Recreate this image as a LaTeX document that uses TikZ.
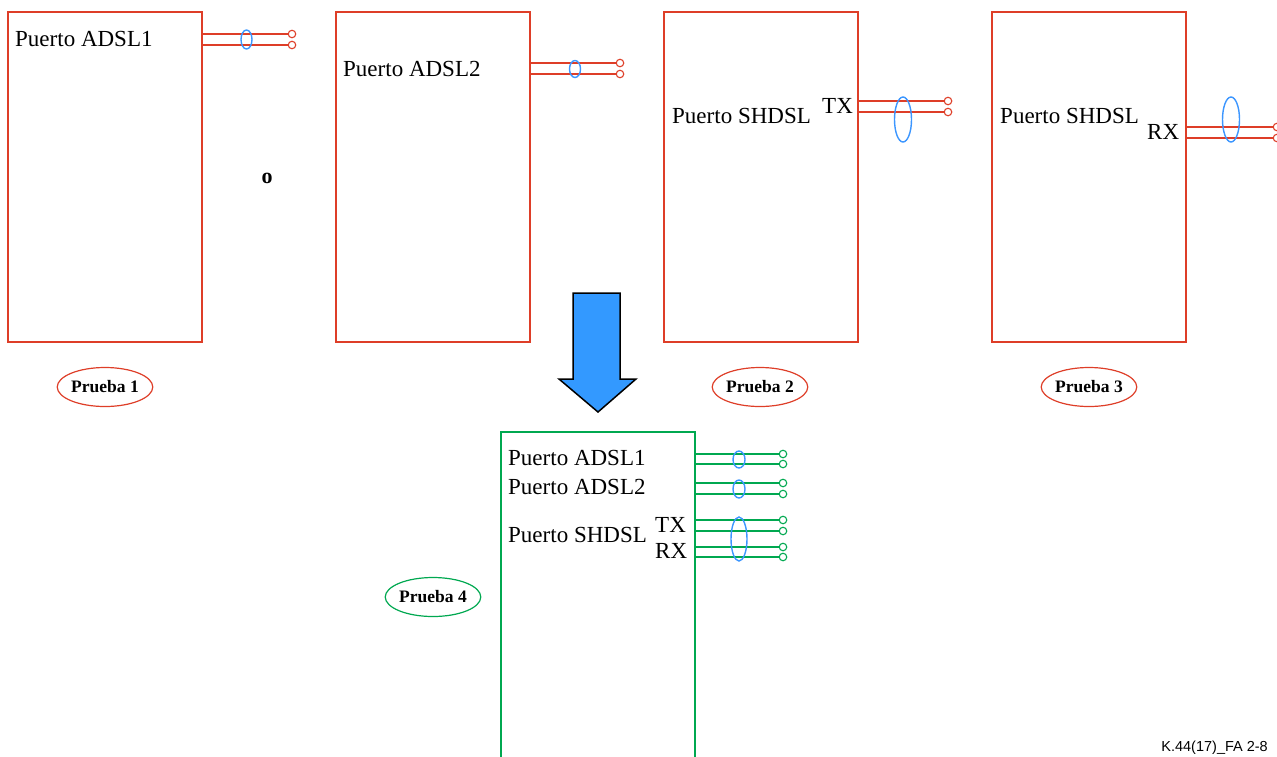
\documentclass[tikz,border=0pt]{standalone}
\usepackage{fontspec}
\setmainfont{Liberation Serif}
\newfontfamily\figsans{Liberation Sans}
\usetikzlibrary{shapes.geometric}
\definecolor{boxred}{RGB}{222,62,40}
\definecolor{boxgreen}{RGB}{0,168,80}
\definecolor{pairblue}{RGB}{60,150,255}
\definecolor{arrowblue}{RGB}{51,153,255}
\tikzset{
  unit/.style={draw=#1, line width=1.5pt, minimum width=194pt, anchor=north west, inner sep=0pt, outer sep=0pt},
  port/.style={circle, draw=#1, line width=1.1pt, fill=white, minimum size=7.5pt, inner sep=0pt},
  wire/.style={draw=#1, line width=1.4pt},
  pair/.style={ellipse, draw=pairblue, line width=1.4pt, inner sep=0pt},
  portlabel/.style={anchor=base west, inner sep=0pt, font=\fontsize{23}{26}\selectfont},
  test/.style={ellipse, draw=#1, line width=1.2pt, minimum width=90pt, minimum height=39pt, inner sep=0pt, font=\bfseries\fontsize{17.5}{20}\selectfont}
}
\begin{document}
\begin{tikzpicture}[x=1pt, y=-1pt]
\useasboundingbox (0,0) rectangle (1277,756);
\clip (0,0) rectangle (1277,756);
% four single-port units
\node[unit=boxred, minimum height=330pt] (e1) at (8,12) {};
\node[unit=boxred, minimum height=330pt] (e2) at (336,12) {};
\node[unit=boxred, minimum height=330pt] (e3) at (664,12) {};
\node[unit=boxred, minimum height=330pt] (e4) at (992,12) {};
\node[portlabel] (l1) at (15,46) {Puerto ADSL1};
\node[portlabel] (l2) at (343,76) {Puerto ADSL2};
\node[portlabel] (l3) at (672,123) {Puerto SHDSL};
\node[portlabel] (l3tx) at (822,113) {TX};
\node[portlabel] (l4) at (1000,123) {Puerto SHDSL};
\node[portlabel] (l4rx) at (1147,139) {RX};
% wire pairs
\node[port=boxred] (p1a) at (292,34) {};
\node[port=boxred] (p1b) at (292,45) {};
\draw[wire=boxred] (e1.east |- p1a) -- (p1a);
\draw[wire=boxred] (e1.east |- p1b) -- (p1b);
\node[pair, minimum width=11pt, minimum height=19pt] (w1) at (246.5,39.5) {};
\node[port=boxred] (p2a) at (620,63) {};
\node[port=boxred] (p2b) at (620,74) {};
\draw[wire=boxred] (e2.east |- p2a) -- (p2a);
\draw[wire=boxred] (e2.east |- p2b) -- (p2b);
\node[pair, minimum width=11pt, minimum height=17pt] (w2) at (575,69) {};
\node[port=boxred] (p3a) at (948,101) {};
\node[port=boxred] (p3b) at (948,112) {};
\draw[wire=boxred] (e3.east |- p3a) -- (p3a);
\draw[wire=boxred] (e3.east |- p3b) -- (p3b);
\node[pair, minimum width=17pt, minimum height=45pt] (w3) at (903,119.5) {};
\node[port=boxred] (p4a) at (1277,127) {};
\node[port=boxred] (p4b) at (1277,138) {};
\draw[wire=boxred] (e4.east |- p4a) -- (p4a);
\draw[wire=boxred] (e4.east |- p4b) -- (p4b);
\node[pair, minimum width=17pt, minimum height=45pt] (w4) at (1231,119.5) {};
\node[font=\bfseries\fontsize{22}{24}\selectfont, inner sep=0pt] (alt) at (267,178) {o};
% tests
\node[test=boxred] (t1) at (105,387) {Prueba 1};
\node[test=boxred] (t2) at (760,387) {Prueba 2};
\node[test=boxred] (t3) at (1089,387) {Prueba 3};
% arrow
\draw[fill=arrowblue, line width=1.5pt, line join=miter] (573,293) -- (620,293) -- (620,379) -- (636,379) -- (598,412) -- (559,379) -- (573,379) -- cycle;
% combined unit
\node[unit=boxgreen, minimum height=340pt] (e5) at (501,432) {};
\node[portlabel] (l5a) at (508,465) {Puerto ADSL1};
\node[portlabel] (l5b) at (508,494) {Puerto ADSL2};
\node[portlabel] (l5c) at (508,542) {Puerto SHDSL};
\node[portlabel] (l5tx) at (655,532) {TX};
\node[portlabel] (l5rx) at (655,558) {RX};
\node[port=boxgreen] (q1) at (783,454) {};
\node[port=boxgreen] (q2) at (783,464) {};
\node[port=boxgreen] (q3) at (783,483) {};
\node[port=boxgreen] (q4) at (783,494) {};
\node[port=boxgreen] (q5) at (783,520) {};
\node[port=boxgreen] (q6) at (783,531) {};
\node[port=boxgreen] (q7) at (783,547) {};
\node[port=boxgreen] (q8) at (783,557) {};
\draw[wire=boxgreen] (e5.east |- q1) -- (q1);
\draw[wire=boxgreen] (e5.east |- q2) -- (q2);
\draw[wire=boxgreen] (e5.east |- q3) -- (q3);
\draw[wire=boxgreen] (e5.east |- q4) -- (q4);
\draw[wire=boxgreen] (e5.east |- q5) -- (q5);
\draw[wire=boxgreen] (e5.east |- q6) -- (q6);
\draw[wire=boxgreen] (e5.east |- q7) -- (q7);
\draw[wire=boxgreen] (e5.east |- q8) -- (q8);
\node[pair, minimum width=12pt, minimum height=17pt] (w5) at (739,459.5) {};
\node[pair, minimum width=12pt, minimum height=18pt] (w6) at (739,489) {};
\node[pair, minimum width=16pt, minimum height=44pt] (w7) at (739,539) {};
\node[test=boxgreen] (t4) at (433,597) {Prueba 4};
% figure tag
\node[anchor=base east, inner sep=0pt, font=\figsans\fontsize{14.5}{16}\selectfont] (tag) at (1268,751.5) {K.44(17)\_FA 2-8};
\end{tikzpicture}
\end{document}
